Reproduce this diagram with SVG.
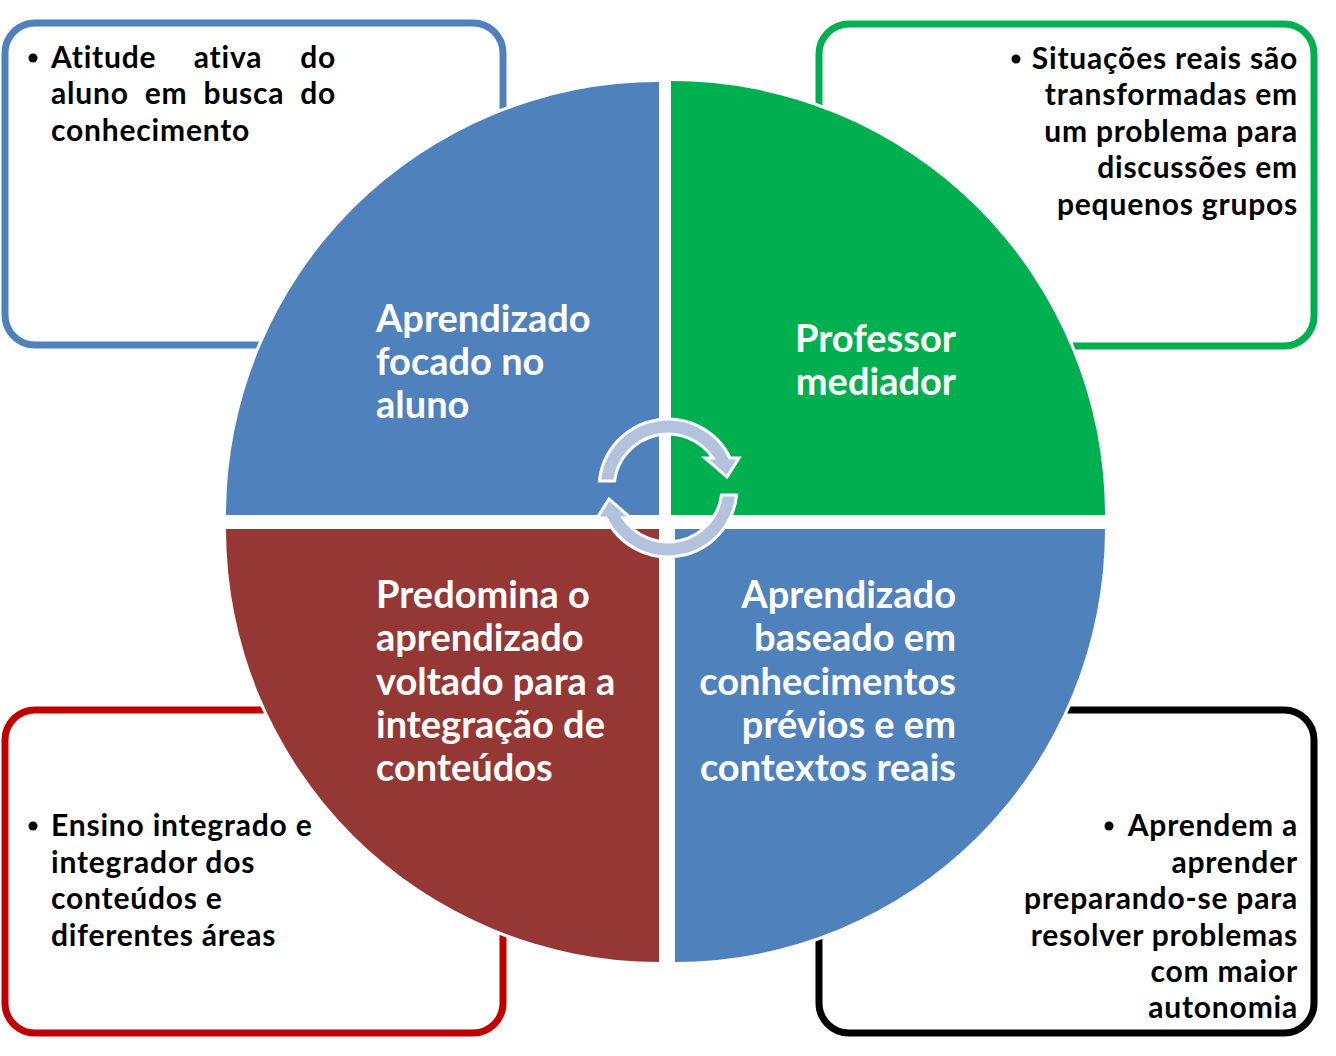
<svg xmlns="http://www.w3.org/2000/svg" width="1336" height="1056" viewBox="0 0 1336 1056">
<style>
.box{fill:#fff;stroke-width:7}
.q{stroke:#fff;stroke-width:6;paint-order:stroke}
.qt{font-family:Lato,"Open Sans",sans-serif;font-weight:bold;font-size:38px;fill:#fff}
.bt{font-family:Lato,"Open Sans",sans-serif;font-weight:bold;font-size:30px;letter-spacing:0.8px;fill:#000}
.arr{fill:#B4C3DD;stroke:#fff;stroke-width:3;stroke-linejoin:miter}
</style>
<rect width="1336" height="1056" fill="#fff"/>
<g id="box-tl">
<rect class="box" x="5" y="23" width="498" height="322" rx="30" stroke="#4F81BD"/>
<circle cx="33" cy="58" r="4.5"/>
<text class="bt" x="51" y="68">Atitude</text>
<text class="bt" x="228" y="68" text-anchor="middle">ativa</text>
<text class="bt" x="336" y="68" text-anchor="end">do</text>
<text class="bt" x="51" y="104">aluno</text>
<text class="bt" x="166" y="104" text-anchor="middle">em</text>
<text class="bt" x="244" y="104" text-anchor="middle">busca</text>
<text class="bt" x="336" y="104" text-anchor="end">do</text>
<text class="bt" x="51" y="141">conhecimento</text>
</g>
<g id="box-tr">
<rect class="box" x="819" y="24" width="495" height="322" rx="30" stroke="#00B050"/>
<circle cx="1016" cy="59" r="4.5"/>
<text class="bt" text-anchor="end"><tspan x="1298" y="69">Situações reais são</tspan><tspan x="1298" y="105">transformadas em</tspan><tspan x="1298" y="142">um problema para</tspan><tspan x="1298" y="178">discussões em</tspan><tspan x="1298" y="215">pequenos grupos</tspan></text>
</g>
<g id="box-bl">
<rect class="box" x="5" y="710" width="498" height="323" rx="30" stroke="#C00000"/>
<circle cx="33" cy="826" r="4.5"/>
<text class="bt"><tspan x="51" y="836">Ensino integrado e</tspan><tspan x="51" y="873">integrador dos</tspan><tspan x="51" y="909">conteúdos e</tspan><tspan x="51" y="946">diferentes áreas</tspan></text>
</g>
<g id="box-br">
<rect class="box" x="819" y="710" width="495" height="323" rx="30" stroke="#000"/>
<circle cx="1109" cy="826" r="4.5"/>
<text class="bt" text-anchor="end"><tspan x="1298" y="836">Aprendem a</tspan><tspan x="1298" y="873">aprender</tspan><tspan x="1298" y="909">preparando-se para</tspan><tspan x="1298" y="946">resolver problemas</tspan><tspan x="1298" y="982">com maior</tspan><tspan x="1298" y="1018">autonomia</tspan></text>
</g>
<g id="quad-tl">
<path class="q" fill="#4F81BD" d="M659,515 L226,515 A433,433 0 0 1 659,82 Z"/>
<text class="qt"><tspan x="376" y="332">Aprendizado</tspan><tspan x="376" y="375">focado no</tspan><tspan x="376" y="418">aluno</tspan></text>
</g>
<g id="quad-tr">
<path class="q" fill="#00B050" d="M671,515 L671,81 A434,434 0 0 1 1105,515 Z"/>
<text class="qt" text-anchor="end"><tspan x="956" y="352">Professor</tspan><tspan x="956" y="395">mediador</tspan></text>
</g>
<g id="quad-bl">
<path class="q" fill="#953735" d="M659,529 L659,962 A433,433 0 0 1 226,529 Z"/>
<text class="qt"><tspan x="376" y="608">Predomina o</tspan><tspan x="376" y="651">aprendizado</tspan><tspan x="376" y="695">voltado para a</tspan><tspan x="376" y="738">integração de</tspan><tspan x="376" y="781">conteúdos</tspan></text>
</g>
<g id="quad-br">
<path class="q" fill="#4F81BD" d="M675,529 L1105,529 A430,433 0 0 1 675,962 Z"/>
<text class="qt" text-anchor="end"><tspan x="956" y="608">Aprendizado</tspan><tspan x="956" y="651">baseado em</tspan><tspan x="956" y="695">conhecimentos</tspan><tspan x="956" y="738">prévios e em</tspan><tspan x="956" y="781">contextos reais</tspan></text>
</g>
<g id="connectors">
<path id="arrow-top" class="arr" d="M599.4,481 A69,69 0 0 1 730.1,458 L739,458 L727,477 L705,458 L712.9,458 A54,54 0 0 0 614.5,481 Z"/>
<path id="arrow-bottom" class="arr" transform="rotate(180 668 488)" d="M599.4,481 A69,69 0 0 1 730.1,458 L739,458 L727,477 L705,458 L712.9,458 A54,54 0 0 0 614.5,481 Z"/>
</g>
</svg>
